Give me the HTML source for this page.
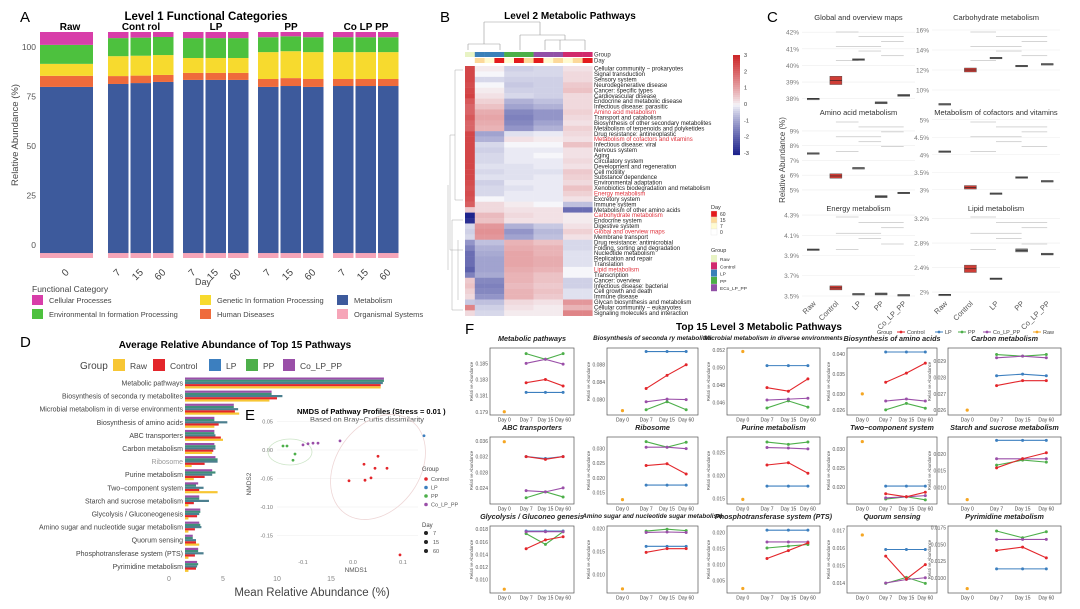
<!DOCTYPE html>
<html><head><meta charset="utf-8"><style>
html,body{margin:0;padding:0;background:#fff;overflow:hidden;}
svg{display:block;font-family:"Liberation Sans",Arial,sans-serif;}
</style></head>
<body>
<svg id="fig" width="1080" height="609" viewBox="0 0 1080 609" xmlns="http://www.w3.org/2000/svg"></svg>
<script>
// ---------- Panel A data ----------
const aGroups = ['Raw','Cont rol','LP','PP','Co  LP  PP'];
const aDays = ['0','7','15','60','7','15','60','7','15','60','7','15','60'];
const aCats = ['Organismal Systems','Metabolism','Human Diseases','Genetic In formation Processing','Environmental In formation Processing','Cellular Processes'];
const aOrg   = [2.2,2.2,2.2,2.2,2.2,2.2,2.2,2.2,2.2,2.2,2.2,2.2,2.2];
const aMetab = [73.5,74.8,75.2,75.7,76.6,76.6,76.6,73.5,73.9,73.5,73.9,73.9,73.9];
const aHuman = [4.9,3.5,3.3,3.1,3.1,3.1,3.1,3.5,3.5,3.5,3.1,3.1,3.1];
const aGen   = [5.3,8.8,8.8,8.8,6.6,6.6,6.6,11.9,11.9,11.9,11.9,11.9,11.9];
const aEnv   = [8.4,8.0,8.0,8.0,8.8,8.8,8.8,6.6,6.6,6.6,6.6,6.6,6.6];
const aCell  = [5.7,2.7,2.5,2.2,2.7,2.7,2.7,2.3,1.9,2.3,2.3,2.3,2.3];
const aTicks = [0,25,50,75,100];

// ---------- Panel D data ----------
const dPaths = ['Metabolic pathways','Biosynthesis of seconda ry metabolites','Microbial metabolism in di verse environments','Biosynthesis of amino acids','ABC transporters','Carbon metabolism','Ribosome','Purine metabolism','Two−component system','Starch and sucrose metabolism','Glycolysis / Gluconeogenesis','Amino sugar and  nucleotide sugar metabolism','Quorum sensing','Phosphotransferase system (PTS)','Pyrimidine metabolism'];
const dRaw  = [19.6,9.3,6.5,4.2,5.0,4.0,2.1,2.3,4.5,1.8,1.8,1.8,2.8,1.8,1.8];
const dCtrl = [19.6,10.0,6.1,4.6,4.8,4.1,3.3,3.3,2.8,2.3,2.6,2.4,2.5,2.4,2.5];
const dLP   = [19.8,10.5,6.4,5.4,4.3,4.3,4.5,4.0,3.2,3.7,2.8,3.0,2.5,3.2,2.6];
const dPP   = [19.9,9.5,6.0,4.2,4.2,4.3,4.5,4.3,2.5,2.8,2.9,2.9,2.2,2.7,2.7];
const dCo   = [19.9,9.5,6.0,4.2,4.2,4.2,4.3,4.0,2.7,2.8,2.9,2.8,2.2,2.7,2.6];
const dTicks = [0,5,10,15];

// ---------- Panel E data ----------
const eX = [0.05,0.022,0.044,0.068,-0.008,0.024,0.036,0.094,-0.14,-0.132,-0.116,-0.12,-0.1,-0.09,-0.08,-0.07,-0.026,0.142];
const eY = [-0.011,-0.025,-0.032,-0.032,-0.054,-0.053,-0.049,-0.184,0.007,0.007,-0.007,-0.018,0.009,0.011,0.012,0.012,0.016,0.025];
const eG = ['Control','Control','Control','Control','Control','Control','Control','Control','PP','PP','PP','PP','Co_LP_PP','Co_LP_PP','Co_LP_PP','Co_LP_PP','Co_LP_PP','LP'];
const eYTicks = [0.05,0.00,-0.05,-0.10,-0.15];
const eXTicks = [-0.1,0.0,0.1];

// ---------- Panel B data ----------
const bRows = ['Cellular community − prokaryotes','Signal transduction','Sensory system','Neurodegenerative disease','Cancer: specific types','Cardiovascular disease','Endocrine and metabolic disease','Infectious disease: parasitic','Amino acid metabolism','Transport and catabolism','Biosynthesis of other secondary metabolites','Metabolism of terpenoids and polyketides','Drug resistance: antineoplastic','Metabolism of cofactors and vitamins','Infectious disease: viral','Nervous system','Aging','Circulatory system','Development and regeneration','Cell motility','Substance dependence','Environmental adaptation','Xenobiotics biodegradation and metabolism','Energy metabolism','Excretory system','Immune system','Metabolism of other amino acids','Carbohydrate metabolism','Endocrine system','Digestive system','Global and overview maps','Membrane transport','Drug resistance: antimicrobial','Folding, sorting and degradation','Nucleotide metabolism','Replication and repair','Translation','Lipid metabolism','Transcription','Cancer: overview','Infectious disease: bacterial','Cell growth and death','Immune disease','Glycan biosynthesis and metabolism','Cellular community − eukaryotes','Signaling molecules and interaction'];
const bHighlight = ['Amino acid metabolism','Metabolism of cofactors and vitamins','Energy metabolism','Carbohydrate metabolism','Global and overview maps','Lipid metabolism'];
const bVals = [[2.5,0.1,-0.4,-0.3,0.2],[2.5,0,-0.3,-0.3,0.3],[2.5,-0.3,-0.4,-0.4,0.3],[2.4,0,-0.5,-0.4,0.5],[2.5,0.1,-0.4,-0.4,0.6],[2.6,0.2,-0.3,-0.4,0.3],[2.2,0.4,-0.8,-0.6,0.3],[2.0,0.6,-1.0,-0.8,0.3],[2.0,0.9,-1.4,-1.2,0.4],[2.2,1.0,-1.5,-1.2,0.3],[2.0,0.9,-1.4,-1.0,0.2],[2.0,0.8,-1.2,-0.8,0.4],[2.5,-1.0,-0.2,-0.1,0.3],[2.5,-0.8,0.2,0.1,0.2],[2.5,-0.3,0.0,0.0,0.6],[2.5,-0.4,-0.1,-0.1,0.2],[2.5,-0.3,-0.1,0,0.2],[2.5,-0.3,-0.1,-0.1,0.3],[2.5,-0.2,-0.2,-0.1,0.2],[2.5,-0.3,-0.2,-0.2,0.5],[2.5,-0.2,-0.2,-0.1,0.4],[2.4,-0.4,-0.1,-0.1,0.3],[2.3,-0.3,-0.2,-0.1,0.6],[2.4,-0.3,-0.1,-0.1,0.4],[2.3,0.0,-0.1,-0.1,0.2],[2.1,0.3,0.1,0,-0.6],[0.5,0.3,0.2,0.2,-1.8],[-3,0.7,0.3,0.2,0.1],[-2.8,0.6,0.2,0.2,0.1],[-0.3,1.2,-0.8,-0.5,0.2],[-0.4,1.3,-1.2,-0.7,0.4],[-0.3,1.2,-1.0,-0.6,0.2],[-1.2,-0.6,0.8,0.6,-0.3],[-1.5,-0.8,0.9,0.8,-0.3],[-1.8,-0.9,1.0,0.8,-0.2],[-1.8,-1.0,1.0,0.9,-0.2],[-1.8,-1.0,1.0,0.9,-0.2],[-2.0,-1.0,0.9,0.8,0.0],[-1.5,-0.9,0.8,0.6,0.0],[0.5,-1.4,0.8,0.6,-0.4],[0.6,-1.5,0.7,0.5,-0.4],[0.4,-1.4,0.8,0.6,-0.2],[0.3,-1.2,0.8,0.5,-0.2],[-0.5,-0.6,0.3,0.2,1.2],[1.5,-0.4,0.2,0.1,0.8],[0.3,-0.3,0.1,0.1,1.5]];
const bColGroup = ['Raw','LP','LP','LP','PP','PP','PP','Co','Co','Co','Control','Control','Control'];
const bColDay = [0,15,7,60,7,60,15,60,7,15,7,15,60];
const bScaleTicks = [3,2,1,0,-1,-2,-3];

// ---------- Panel C data ----------
const cTitles = ['Global and overview maps','Carbohydrate metabolism','Amino acid metabolism','Metabolism of cofactors and vitamins','Energy metabolism','Lipid metabolism'];
const cGroups = ['Raw','Control','LP','PP','Co_LP_PP'];
const cMed = [[38.0,39.1,40.35,37.75,38.2],[8.6,12.0,13.2,12.4,12.6],[7.5,5.95,6.5,4.55,4.8],[4.1,3.07,2.9,3.35,3.25],[3.96,3.58,3.52,3.52,3.51],[1.96,2.38,2.22,2.68,2.62]];
const cSpread = [[0.05,0.5,0.1,0.12,0.12],[0.1,0.4,0.15,0.15,0.1],[0.05,0.3,0.05,0.15,0.1],[0.02,0.1,0.02,0.05,0.03],[0.01,0.04,0.01,0.02,0.01],[0.01,0.12,0.02,0.05,0.03]];
const cDomain = [[37.8,42.25],[8.8,16.2],[4.66,9.88],[2.85,5.05],[3.49,4.32],[1.92,3.29]];
const cTicks = [[38,39,40,41,42],[10,12,14,16],[5,6,7,8,9],[3,3.5,4,4.5,5],[3.5,3.7,3.9,4.1,4.3],[2,2.4,2.8,3.2]];

// ---------- Panel F data ----------
const fTitles = ['Metabolic pathways','Biosynthesis of seconda ry metabolites','Microbial metabolism in diverse environments','Biosynthesis of amino acids','Carbon metabolism','ABC transporters','Ribosome','Purine metabolism','Two−component system','Starch and sucrose metabolism','Glycolysis / Gluconeo genesis','Amino sugar and nucleotide sugar metabolism','Phosphotransferase system (PTS)','Quorum sensing','Pyrimidine metabolism'];
const fDays = ['Day 0','Day 7','Day 15','Day 60'];
const fRaw = [.1790,.0775,.0518,.0300,.0260,.0358,.0125,.0148,.0319,.0063,.0085,.0069,.0025,.01674,.0084];
const fCtrl = [[.1826,.1830,.1822],[.0825,.0855,.0879],[.0477,.0473,.0487],[.0329,.0352,.0377],[.0275,.0278,.0278],[.0320,.0313,.0320],[.0242,.0248,.0213],[.0223,.0228,.0205],[.0182,.0174,.0186],[.0158,.0185,.0203],[.0149,.0163,.0168],[.0148,.0156,.0156],[.0119,.0144,.0168],[.01553,.01423,.01505],[.0141,.0146,.0130]];
const fLP = [[.1814,.1814,.1814],[.0909,.0909,.0909],[.0502,.0502,.0502],[.0405,.0405,.0405],[.0281,.0282,.0281],[.0320,.0315,.0320],[.0175,.0175,.0175],[.0177,.0177,.0177],[.0202,.0202,.0202],[.0240,.0240,.0240],[.0177,.0177,.0177],[.0161,.0161,.0161],[.0208,.0208,.0208],[.01591,.01591,.01591],[.01135,.01135,.01135]];
const fPP = [[.1862,.1855,.1862],[.0777,.0795,.0777],[.0454,.0462,.0455],[.0260,.0276,.0264],[.0294,.0293,.0294],[.0215,.0230,.0217],[.0324,.0305,.0322],[.0273,.0268,.0273],[.0168,.0174,.0166],[.0166,.0181,.0175],[.0173,.0156,.0176],[.0194,.0198,.0195],[.0152,.0158,.0163],[.01398,.01432,.01398],[.0170,.0160,.0169]];
const fCo = [[.1850,.1855,.1849],[.0795,.0801,.0800],[.0463,.0464,.0465],[.0282,.0287,.0282],[.0292,.0293,.0292],[.0233,.0230,.0240],[.0305,.0305,.0300],[.0261,.0260,.0258],[.0171,.0174,.0177],[.0185,.0185,.0185],[.0176,.0176,.0176],[.0191,.0192,.0191],[.0171,.0171,.0171],[.0140,.0142,.0143],[.01575,.01575,.01575]];
const fDomain = [[.1786,.1869],[.0765,.0917],[.0446,.0522],[.0247,.0415],[.0257,.0298],[.0199,.0370],[.0110,.0340],[.0138,.0284],[.0155,.0331],[.0050,.0250],[.0079,.0185],[.0060,.0205],[.0011,.0221],[.01343,.01725],[.00775,.01775]];
const fTicks = [[.179,.181,.183,.185],[.080,.084,.088],[.046,.048,.050,.052],[.026,.030,.035,.040],[.026,.027,.028,.029],[.024,.028,.032,.036],[.015,.020,.025,.030],[.015,.020,.025],[.020,.025,.030],[.010,.015,.020],[.010,.012,.014,.016,.018],[.010,.015,.020],[.005,.010,.015,.020],[.014,.015,.016,.017],[.0100,.0125,.0150,.0175]];

// ---------- helpers ----------
const NS='http://www.w3.org/2000/svg';
const svg=document.getElementById('fig');
function mk(tag,attrs,parent){const e=document.createElementNS(NS,tag);for(const k in attrs)e.setAttribute(k,attrs[k]);(parent||svg).appendChild(e);return e;}
function tx(s,x,y,attrs,parent){const e=mk('text',Object.assign({x:x,y:y},attrs||{}),parent);e.textContent=s;return e;}
const GC={Raw:'#f5a623',Control:'#e3262b',LP:'#3c7fbf',PP:'#4daf4a',Co_LP_PP:'#9a4fa8',Co:'#9a4fa8'};

// ================= Panel A =================
const gA=mk('g',{});


let t;
t=tx('A',20,22,{'font-size':15},gA);


t=tx('Level 1 Functional Categories',206,20,{'font-size':11.5,'font-weight':'bold','text-anchor':'middle'},gA);


const aColors=['#f6a5b8','#3d5a9c','#ef6b3b','#f7da2e','#4dc13e','#d83ea9'];
const aSeries=[aOrg,aMetab,aHuman,aGen,aEnv,aCell];
function aBarY(v){return 258-2.26*v;}
function aTickY(v){return 245-1.98*v;}
function aBarX(i){return i===0?40:108+Math.floor((i-1)/3)*75+((i-1)%3)*22.5;}
function aBarW(i){return i===0?53:20.5;}
for(let i=0;i<aDays.length;i++){
  let cum=0;
  for(let s=0;s<aSeries.length;s++){
    const v=aSeries[s][i];
    const r=mk('rect',{x:aBarX(i),y:aBarY(cum+v),width:aBarW(i),height:aBarY(cum)-aBarY(cum+v),fill:aColors[s]},gA);
    
    
    cum+=v;
  }
  const lt=tx(aDays[i],aBarX(i)+aBarW(i)/2+3,273,{'font-size':10,'text-anchor':'end',fill:'#444',transform:`rotate(-45 ${aBarX(i)+aBarW(i)/2+3} 273)`},gA);
  
  
}
aGroups.forEach((g,k)=>{
  const cx=k===0?70:aBarX(1+(k-1)*3)+33;
  const e=tx(g,cx,30,{'font-size':10,'font-weight':'bold','text-anchor':'middle'},gA);
  
  
});
aTicks.forEach(v=>{
  const e=tx(String(v),36,aTickY(v)+3,{'font-size':8.5,'text-anchor':'end',fill:'#555'},gA);
  
  
});
t=tx('Relative Abundance (%)',18,135,{'font-size':9.5,'text-anchor':'middle',fill:'#444',transform:'rotate(-90 18 135)'},gA);


t=tx('Day',203,285,{'font-size':9,'text-anchor':'middle',fill:'#444'},gA);


t=tx('Functional Category',32,292,{'font-size':8.5,fill:'#444'},gA);


const aLegPos=[[337,312],[337,298],[200,312],[200,298],[32,312],[32,298]];
aCats.forEach((c,s)=>{
  const [lx,ly]=aLegPos[s];
  const r=mk('rect',{x:lx,y:ly-3,width:11,height:10,fill:aColors[s]},gA);
  
  
  const e=tx(c,lx+17,ly+5,{'font-size':7.5,fill:'#444'},gA);
  
  
});

// ================= Panel D =================
const gD=mk('g',{});


t=tx('D',20,347,{'font-size':15},gD);


t=tx('Average Relative Abundance of Top 15 Pathways',235,348,{'font-size':10,'font-weight':'bold','text-anchor':'middle'},gD);


t=tx('Group',80,369,{'font-size':10,fill:'#444'},gD);


const dLeg=[['Raw','#f7c634',113],['Control','#e3262b',153],['LP','#3c7fbf',209],['PP','#4daf4a',246],['Co_LP_PP','#9a4fa8',283]];
dLeg.forEach(([n,c,lx])=>{
  const r=mk('rect',{x:lx,y:359,width:12,height:12,fill:c},gD);
  
  
  const e=tx(n,lx+17,369,{'font-size':8.5,fill:'#444'},gD);
  
  
});
function dX(v){return 169+10.8*v;}
const dSeries=[[dCo,'#9a4fa8'],[dPP,'#3f8f7a'],[dLP,'#4c7f8f'],[dCtrl,'#e3262b'],[dRaw,'#f7c634']];
dPaths.forEach((p,i)=>{
  const cy=383+i*13.1;
  const e=tx(p,183,cy+2.5,{'font-size':7,'text-anchor':'end',fill:i===6?'#999':'#444'},gD);
  
  
  dSeries.forEach(([arr,col],k)=>{
    const r=mk('rect',{x:185,y:cy-5.5+k*2.2,width:Math.max(0,dX(arr[i])-185),height:2.2,fill:col},gD);
    
    
  });
});
dTicks.forEach(v=>{
  const e=tx(String(v),dX(v),581,{'font-size':7,'text-anchor':'middle',fill:'#888'},gD);
  
  
});
t=tx('Mean Relative Abundance (%)',312,596,{'font-size':11.5,'text-anchor':'middle',fill:'#444'},gD);



// ================= Panel E =================
const gE=mk('g',{});


function eSX(v){return 353+500*v;}
function eSY(v){return 450-570*v;}
t=tx('E',245,420,{'font-size':15},gE);


t=tx('NMDS of Pathway Profiles (Stress = 0.01 )',297,414,{'font-size':7.5,'font-weight':'bold'},gE);


t=tx('Based on Bray−Curtis dissimilarity',310,422,{'font-size':7.5,fill:'#555'},gE);


eYTicks.forEach(v=>{
  const e=tx(v.toFixed(2),273,eSY(v)+2,{'font-size':5.5,'text-anchor':'end',fill:'#777'},gE);
  
  
  const l=mk('line',{x1:277,x2:418,y1:eSY(v),y2:eSY(v),stroke:'#eee','stroke-width':0.6},gE);
  
  
});
eXTicks.forEach(v=>{
  const e=tx(v.toFixed(1),eSX(v),564,{'font-size':5.5,'text-anchor':'middle',fill:'#777'},gE);
  
  
});
t=tx('NMDS1',356,572,{'font-size':6.5,'text-anchor':'middle',fill:'#555'},gE);


t=tx('NMDS2',251,484,{'font-size':6.5,'text-anchor':'middle',fill:'#555',transform:'rotate(-90 251 484)'},gE);


let el=mk('ellipse',{cx:290,cy:452,rx:22,ry:13,fill:'none',stroke:'#cde5c8','stroke-width':0.8},gE);


el=mk('ellipse',{cx:378,cy:467,rx:42,ry:57,fill:'none',stroke:'#eed6d6','stroke-width':0.8,transform:'rotate(35 378 467)'},gE);


eX.forEach((v,i)=>{
  const c=mk('circle',{cx:eSX(v),cy:eSY(eY[i]),r:1.4,fill:GC[eG[i]]},gE);
  
  
});
t=tx('Group',422,471,{'font-size':6,fill:'#444'},gE);


['Control','LP','PP','Co_LP_PP'].forEach((g,k)=>{
  const c=mk('circle',{cx:426,cy:479+k*8.5,r:1.8,fill:GC[g]},gE);
  
  
  const e=tx(g,431,481+k*8.5,{'font-size':5.5,fill:'#555'},gE);
  
  
});
t=tx('Day',422,527,{'font-size':6,fill:'#444'},gE);


['7','15','60'].forEach((d,k)=>{
  const c=mk('circle',{cx:426,cy:533+k*9,r:2,fill:'#222'},gE);
  
  
  const e=tx(d,433,535+k*9,{'font-size':5.5,fill:'#555'},gE);
  
  
});

// ================= Panel B =================
const gB=mk('g',{});


t=tx('B',440,22,{'font-size':15},gB);


t=tx('Level 2 Metabolic Pathways',570,19,{'font-size':10,'font-weight':'bold','text-anchor':'middle'},gB);


function heatColor(v){
  v=Math.max(-3,Math.min(3,v));
  const lerp=(a,b,f)=>Math.round(a+(b-a)*f);
  if(v>=0){const f=Math.pow(v/3,0.85);return `rgb(${lerp(246,205,f)},${lerp(246,40,f)},${lerp(250,42,f)})`;}
  const f=Math.pow(-v/3,0.85);return `rgb(${lerp(246,30,f)},${lerp(246,35,f)},${lerp(250,140,f)})`;
}
const bGroupColor={Raw:'#e8f3c4',LP:'#3a80b9',PP:'#4caf48',Co:'#9150a6',Control:'#d12a6c'};
const bDayColor={0:'#ffffff',7:'#fffbd0',15:'#fcd99a',60:'#e41a1c'};
const bGroupIdx={Raw:0,LP:1,PP:2,Co:3,Control:4};
const bx0=465,bcw=9.8,by0=66,brh=5.43;
bColGroup.forEach((g,c)=>{
  let r=mk('rect',{x:bx0+c*bcw,y:52,width:bcw+0.2,height:5,fill:bGroupColor[g]},gB);
  
  
  r=mk('rect',{x:bx0+c*bcw,y:58,width:bcw+0.2,height:5,fill:bDayColor[bColDay[c]]},gB);
  
  
});
t=tx('Group',594,56.5,{'font-size':6,fill:'#333'},gB);


t=tx('Day',594,62.5,{'font-size':6,fill:'#333'},gB);


bRows.forEach((name,i)=>{
  bColGroup.forEach((g,c)=>{
    const r=mk('rect',{x:bx0+c*bcw,y:by0+i*brh,width:bcw+0.2,height:brh+0.2,fill:heatColor(bVals[i][bGroupIdx[g]])},gB);
    
    
  });
  const hl=bHighlight.includes(name);
  const e=tx(name,594,by0+i*brh+4.6,{'font-size':6,fill:hl?'#e0303a':'#222'},gB);
  
  
});
const dendTop=[[468,50,468,44],[468,44,500,44],[500,44,500,50],[484,44,484,22],[484,22,540,22],[540,22,540,35],[520,35,565,35],[520,35,520,50],[565,35,565,40],[545,40,585,40],[545,40,545,50],[585,40,585,50],[560,40,560,50]];
dendTop.forEach(s=>{
  const l=mk('line',{x1:s[0],y1:s[1],x2:s[2],y2:s[3],stroke:'#999','stroke-width':0.6},gB);
  
  
});
const dendLeft=[[463,70,455,70],[455,70,455,200],[455,200,463,200],[455,135,450,135],[450,135,450,250],[450,250,463,250],[452,220,452,310],[452,220,463,220],[452,310,463,310],[458,240,458,300],[448,185,448,270]];
dendLeft.forEach(s=>{
  const l=mk('line',{x1:s[0],y1:s[1],x2:s[2],y2:s[3],stroke:'#aaa','stroke-width':0.5},gB);
  
  
});
for(let k=0;k<50;k++){
  const v=3-6*k/49;
  const r=mk('rect',{x:733,y:55+k*2,width:7,height:2.1,fill:heatColor(v)},gB);
  
  
}
bScaleTicks.forEach(v=>{
  const e=tx(String(v),744,55+(3-v)/6*98+2,{'font-size':5.5,fill:'#333'},gB);
  
  
});
t=tx('Day',711,209,{'font-size':5.5,fill:'#333'},gB);


[60,15,7,0].forEach((d,k)=>{
  const r=mk('rect',{x:711,y:211+k*6,width:6,height:6,fill:bDayColor[d],stroke:'#ddd','stroke-width':0.3},gB);
  
  
  const e=tx(String(d),720,216+k*6,{'font-size':5,fill:'#333'},gB);
  
  
});
t=tx('Group',711,252,{'font-size':5.5,fill:'#333'},gB);


[['Raw','Raw'],['Control','Control'],['LP','LP'],['PP','PP'],['Co','ECo_LP_PP']].forEach(([g,n],k)=>{
  const r=mk('rect',{x:711,y:255+k*7.3,width:6,height:7,fill:bGroupColor[g]},gB);
  
  
  const e=tx(n,720,261+k*7.3,{'font-size':4.8,fill:'#333'},gB);
  
  
});

// ================= Panel C =================
const gC=mk('g',{});


t=tx('C',767,22,{'font-size':15},gC);


t=tx('Relative Abundance (%)',785,160,{'font-size':8,'text-anchor':'middle',fill:'#444',transform:'rotate(-90 785 160)'},gC);


const cCols=[[802,113],[932,128]];
const cRowsY=[[28,102],[118,195],[213,297]];
const cTitleY=[20,115,211];
cTitles.forEach((title,p)=>{
  const [x0,w]=cCols[p%2];
  const [yt,yb]=cRowsY[Math.floor(p/2)];
  const [lo,hi]=cDomain[p];
  const sy=v=>yb-(v-lo)/(hi-lo)*(yb-yt);
  const sx=i=>x0+(i+0.5)*w/5;
  let e=tx(title,x0+w/2,cTitleY[Math.floor(p/2)],{'font-size':7.5,'text-anchor':'middle',fill:'#333'},gC);
  
  
  cTicks[p].forEach(v=>{
    const l=mk('line',{x1:x0,x2:x0+w,y1:sy(v),y2:sy(v),stroke:'#eee','stroke-width':0.6},gC);
    
    
    const lab=tx(v+'%',x0-3,sy(v)+2.5,{'font-size':6.5,'text-anchor':'end',fill:'#777'},gC);
    
    
  });
  for(let k=0;k<7;k++){
    const yy=yt+4+k*((yb-yt)*0.45)/7;
    const a=1+(k%3), b=Math.min(4,a+1+(k%2));
    const l=mk('line',{x1:sx(a),x2:sx(b),y1:yy,y2:yy,stroke:'#aaa','stroke-width':0.5},gC);
    
    
  }
  cGroups.forEach((g,i)=>{
    const m=cMed[p][i], s=cSpread[p][i];
    const isC=g==='Control';
    const r=mk('rect',{x:sx(i)-6,y:sy(m+s/2),width:12,height:Math.max(1.6,sy(m-s/2)-sy(m+s/2)),fill:isC?'#cf3d36':'#777',stroke:'#444','stroke-width':0.4},gC);
    
    
    const l=mk('line',{x1:sx(i)-6,x2:sx(i)+6,y1:sy(m),y2:sy(m),stroke:'#222','stroke-width':0.6},gC);
    
    
    if(p>=4){
      const lb=tx(g,sx(i)+3,304,{'font-size':7.5,'text-anchor':'end',fill:'#555',transform:`rotate(-45 ${sx(i)+3} 304)`},gC);
      
      
    }
  });
});

// ================= Panel F =================
const gF=mk('g',{});


t=tx('F',465,334,{'font-size':15},gF);


t=tx('Top 15 Level 3 Metabolic Pathways',759,330,{'font-size':10,'font-weight':'bold','text-anchor':'middle'},gF);


t=tx('Group',877,334,{'font-size':5.5,fill:'#444'},gF);


[['Control',897],['LP',935],['PP',958],['Co_LP_PP',983],['Raw',1033]].forEach(([g,lx])=>{
  const l=mk('line',{x1:lx,x2:lx+8,y1:332,y2:332,stroke:GC[g],'stroke-width':1},gF);
  
  
  const c=mk('circle',{cx:lx+4,cy:332,r:1.4,fill:GC[g]},gF);
  
  
  const e=tx(g,lx+10,334,{'font-size':5.5,fill:'#444'},gF);
  
  
});
const fCols=[[490,84],[607,91],[727,93],[847,90],[948,113]];
const fRowY=[348,437,526], fH=67;
const fTitleY=[341,430,519];
const dayFrac=[0.17,0.43,0.66,0.87];
fTitles.forEach((title,p)=>{
  const [x0,fW]=fCols[p%5];
  const y0=fRowY[Math.floor(p/5)];
  const [lo,hi]=fDomain[p];
  const sy=v=>y0+fH-(v-lo)/(hi-lo)*fH;
  const sx=d=>x0+dayFrac[d]*fW;
  let r=mk('rect',{x:x0,y:y0,width:fW,height:fH,fill:'#fff',stroke:'#555','stroke-width':0.7},gF);
  
  
  const long=title.length>32;
  let e=tx(title,x0+fW/2,fTitleY[Math.floor(p/5)]+(long?-1:0),{'font-size':long?6.3:7.2,'font-weight':'bold','font-style':'italic','text-anchor':'middle',fill:'#222'},gF);
  
  
  fTicks[p].forEach(v=>{
    const lab=tx(p===14?v.toFixed(4):v.toFixed(3),x0-2,sy(v)+2,{'font-size':5,'text-anchor':'end',fill:'#555'},gF);
    
    
  });
  const ya=tx('Relati ve Abundance',x0-17,y0+fH/2,{'font-size':4.3,'text-anchor':'middle',fill:'#555',transform:`rotate(-90 ${x0-17} ${y0+fH/2})`},gF);
  
  
  fDays.forEach((d,k)=>{
    const lab=tx(d,sx(k),y0+fH+6.5,{'font-size':5,'text-anchor':'middle',fill:'#444'},gF);
    
    
  });
  [['LP',fLP],['PP',fPP],['Co_LP_PP',fCo],['Control',fCtrl]].forEach(([g,arr])=>{
    const vals=arr[p];
    const pts=vals.map((v,k)=>sx(k+1)+','+sy(v)).join(' ');
    const pl=mk('polyline',{points:pts,fill:'none',stroke:GC[g],'stroke-width':1.1},gF);
    
    
    vals.forEach((v,k)=>{
      const c=mk('circle',{cx:sx(k+1),cy:sy(v),r:1.5,fill:GC[g]},gF);
      
      
    });
  });
  const rc=mk('circle',{cx:sx(0),cy:sy(fRaw[p]),r:1.6,fill:GC.Raw},gF);
  
  
});
</script>
</body></html>
